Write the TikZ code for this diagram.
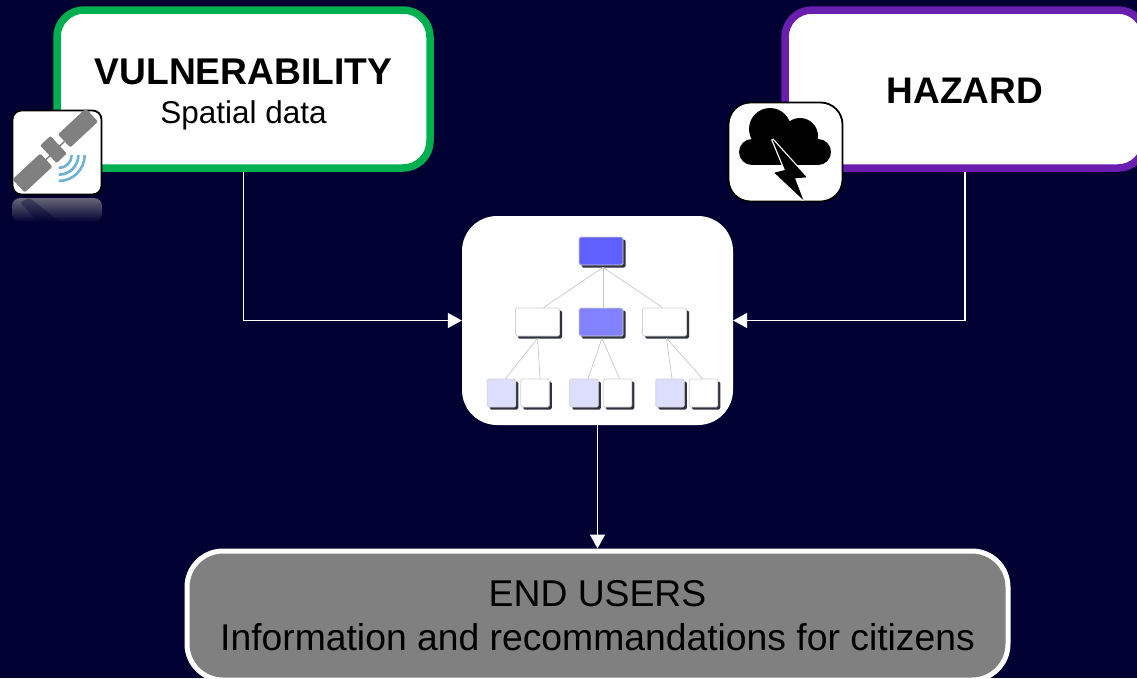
\documentclass[tikz,border=0pt]{standalone}
\usepackage{fontspec}
\setmainfont{Liberation Sans}
\usepackage{xcolor}
\usetikzlibrary{positioning,arrows.meta,shadows}
\definecolor{nightbg}{HTML}{000033}
\definecolor{vulngreen}{HTML}{00B050}
\definecolor{hazardpurple}{HTML}{6A1EB0}
\definecolor{usergray}{HTML}{808080}
\definecolor{wavesblue}{HTML}{6DB2D3}
\definecolor{rootblue}{HTML}{6060FF}
\definecolor{midblue}{HTML}{8282FF}
\definecolor{leafblue}{HTML}{DDDDFF}
\definecolor{treeshadow}{HTML}{30323F}

\begin{document}
\begin{tikzpicture}[x=1pt, y=-1pt, node distance=71pt, on grid,
    mainbox/.style={draw, line width=7.5pt, fill=white, rounded corners=27pt, minimum height=158pt, inner sep=0pt},
    iconbox/.style={draw=black, line width=1.8pt, fill=white, inner sep=0pt},
    treebox/.style={draw=black!18, line width=0.8pt, rounded corners=1.5pt, inner sep=0pt, minimum height=28pt,
        drop shadow={shadow xshift=2.6pt, shadow yshift=-2.6pt, opacity=1, fill=treeshadow}},
    branch/.style={treebox, minimum width=44pt},
    leaf/.style={treebox, minimum width=28.5pt},
    treeline/.style={draw=black!22, line width=0.7pt},
    flow/.style={draw=white, line width=1.5pt, -{Triangle[length=14pt, width=15pt]}},
    panel/.style={fill=usergray, rounded corners=2pt, rotate=43, minimum width=38pt, minimum height=18pt, inner sep=0pt}
]
    \clip (0,0) rectangle (1137,678);
    \fill[nightbg] (0,0) rectangle (1137,678);

    % main boxes
    \node[mainbox, draw=vulngreen, minimum width=373pt] (vuln) at (243.5,89) {};
    \node[font=\fontsize{37.2}{41}\selectfont\bfseries] (vulntitle) at (243.5,72) {VULNERABILITY};
    \node[font=\fontsize{31.5}{38}\selectfont] (vulnsub) [below=43pt of vulntitle] {Spatial data};
    \node[mainbox, draw=hazardpurple, minimum width=360pt] (hazard) at (965,89) {};
    \node[font=\fontsize{37}{41}\selectfont\bfseries] (hazardtitle) at (965,90.5) {HAZARD};
    \node[draw=white, line width=5pt, fill=usergray, rounded corners=36pt, minimum width=821pt, minimum height=129pt, align=center, inner sep=0pt,
        font=\fontsize{37.3}{44}\selectfont] (users) at (597.5,615.5)
        {END USERS\\Information and recommandations for citizens};
    \node[fill=white, rounded corners=35pt, minimum width=271pt, minimum height=209pt, inner sep=0pt] (model) at (597.5,320.5) {};

    % connectors
    \draw[flow] (vuln.south) |- (model.west);
    \draw[flow] (hazard.south) |- (model.east);
    \draw[flow] (model.south) -- (users.north);

    % tree in the middle box
    \node[branch, fill=rootblue] (root) at (601,251) {};
    \node[branch, fill=midblue] (midB) [below=of root] {};
    \node[branch, fill=white] (midA) [left=63.5pt of midB] {};
    \node[branch, fill=white] (midC) [right=63.5pt of midB] {};
    \node[leaf, fill=leafblue] (leafA) at (501.5,393) {};
    \node[leaf, fill=white] (leafB) [right=33.5pt of leafA] {};
    \node[leaf, fill=leafblue] (leafC) at (584,393) {};
    \node[leaf, fill=white] (leafD) [right=33.5pt of leafC] {};
    \node[leaf, fill=leafblue] (leafE) at (670,393) {};
    \node[leaf, fill=white] (leafF) [right=33.5pt of leafE] {};

    \path[treeline]
        ([xshift=2pt,yshift=-2pt]root.south) edge ([xshift=6pt]midA.north)
        ([xshift=2pt,yshift=-2pt]root.south) edge ([xshift=2pt]midB.north)
        ([xshift=2pt,yshift=-2pt]root.south) edge ([xshift=-2pt]midC.north)
        ([yshift=-2pt]midA.south) edge ([xshift=4pt]leafA.north)
        ([yshift=-2pt]midA.south) edge ([xshift=5pt]leafB.north)
        ([xshift=1pt,yshift=-2pt]midB.south) edge ([xshift=4pt]leafC.north)
        ([xshift=1pt,yshift=-2pt]midB.south) edge ([xshift=2pt]leafD.north)
        ([xshift=2pt,yshift=-2pt]midC.south) edge ([xshift=2pt]leafE.north)
        ([xshift=2pt,yshift=-2pt]midC.south) edge ([xshift=-1pt]leafF.north);

    % satellite icon
    \shade[top color=black!45!nightbg!60!white, bottom color=nightbg, rounded corners=8pt] (12,198) rectangle (102,222);
    \fill[nightbg, opacity=.35, rounded corners=3pt] (20,202) -- (30,198) -- (60,222) -- (38,222) -- cycle;
    \node[iconbox, rounded corners=9pt, minimum width=89pt, minimum height=84pt] (sat) at (57,152.5) {};
    \node[panel] (panelR) at (78,128) {};
    \node[panel] (panelL) at (32.5,173) {};
    \node[fill=usergray, rounded corners=1pt, rotate=-47, minimum width=24pt, minimum height=14pt, inner sep=0pt] (body) at (53.5,149.5) {};
    \draw[usergray, line width=1.5pt] (panelL) -- (panelR);
    \foreach \r in {13,19.7,26}
        \draw[wavesblue, line width=2.6pt] (58.7+\r,155) arc[start angle=0, end angle=90, radius=\r];

    % storm icon
    \node[iconbox, rounded corners=22pt, minimum width=114pt, minimum height=99pt] (storm) at (785.5,152) {};
    \fill[black] (770,129) circle[radius=21] (800,136) circle[radius=18]
        (752,152) circle[radius=13] (818,152) circle[radius=13];
    \fill[black] (752,139) rectangle (818,165);
    \draw[white, line width=2.5pt, line join=bevel]
        (772.3,139.3) -- (806.7,177.3) -- (795,178.3) -- (803.3,200) -- (774.3,172.7) -- (785,170) -- cycle;
    \fill[black] (772.3,139.3) -- (806.7,177.3) -- (795,178.3) -- (803.3,200) -- (774.3,172.7) -- (785,170) -- cycle;
\end{tikzpicture}
\end{document}
